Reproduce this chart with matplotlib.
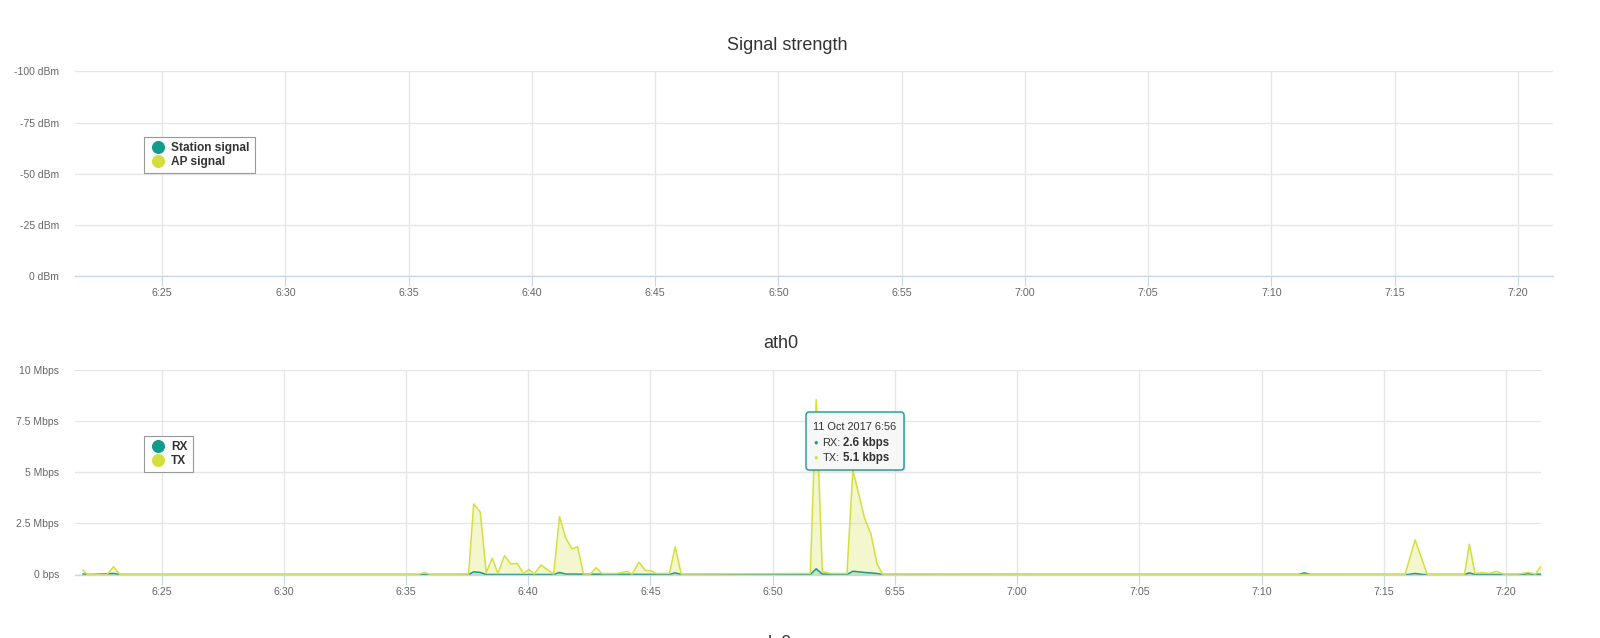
import matplotlib.pyplot as plt
from matplotlib.lines import Line2D
from matplotlib.patches import FancyBboxPatch
from matplotlib.ticker import FixedLocator, FuncFormatter

plt.rcParams['font.family'] = ['Liberation Sans', 'DejaVu Sans']

# time = minutes after 6:00 on 11 Oct 2017
tx_min = [21.79, 21.96, 22.77, 23.04, 23.29, 35.5, 35.75, 36.0,
          37.56, 37.77, 38.04, 38.28, 38.53, 38.76, 39.03, 39.29, 39.54, 39.81,
          40.03, 40.25, 40.52, 40.77, 41.04, 41.28, 41.54, 41.79, 42.02, 42.26,
          42.54, 42.78, 43.02, 43.63, 44.04, 44.25, 44.53, 44.79, 45.02, 45.24,
          45.78, 46.01, 46.26, 51.54, 51.78, 52.03, 52.39, 53.04, 53.28, 53.51,
          53.76, 54.02, 54.26, 54.49, 75.87, 76.28, 76.78, 78.3, 78.5, 78.73,
          79.0, 79.3, 79.6, 79.9, 80.5, 80.9, 81.2, 81.42]
tx_mbps = [0.22, 0.0, 0.0, 0.38, 0.0, 0.0, 0.1, 0.0,
           0.02, 3.45, 3.05, 0.09, 0.79, 0.05, 0.92, 0.51, 0.55, 0.05,
           0.25, 0.02, 0.47, 0.25, 0.02, 2.83, 1.77, 1.25, 1.36, 0.02,
           0.02, 0.33, 0.05, 0.05, 0.15, 0.02, 0.6, 0.2, 0.18, 0.05,
           0.05, 1.36, 0.02, 0.05, 8.55, 0.14, 0.05, 0.05, 5.1, 3.98,
           2.75, 1.98, 0.55, 0.02, 0.0, 1.69, 0.0, 0.0, 1.48, 0.05,
           0.1, 0.05, 0.15, 0.02, 0.02, 0.1, 0.02, 0.38]

rx_min = [21.79, 22.1, 23.04, 23.3, 37.56, 37.77, 38.04, 38.28, 41.04, 41.28,
          41.54, 45.78, 46.01, 46.26, 51.54, 51.78, 52.03, 53.04, 53.28, 53.76,
          54.26, 54.49, 71.5, 71.75, 72.0, 76.0, 76.28, 76.6, 78.3, 78.5, 78.73,
          80.7, 80.9, 81.1, 81.42]
rx_mbps = [0.02, 0.0, 0.05, 0.0, 0.0, 0.13, 0.1, 0.0, 0.0, 0.1,
           0.02, 0.0, 0.08, 0.0, 0.0, 0.28, 0.02, 0.0, 0.16, 0.1,
           0.05, 0.0, 0.0, 0.08, 0.0, 0.0, 0.05, 0.0, 0.0, 0.08, 0.0,
           0.0, 0.04, 0.0, 0.02]

time_ticks = list(range(25, 81, 5))
signal_ticks = [0, -25, -50, -75, -100]
signal_labels = ['0 dBm', '-25 dBm', '-50 dBm', '-75 dBm', '-100 dBm']
rate_ticks = [0, 2.5, 5, 7.5, 10]
rate_labels = ['0 bps', '2.5 Mbps', '5 Mbps', '7.5 Mbps', '10 Mbps']
x_range = (21.46, 81.43)

W, H = 1600, 638
TEAL = '#139b8c'
LIME = '#d4df3e'
GRID = '#e6e6e6'
AXIS = '#ccd6eb'
LABEL = '#666666'
DARK = '#333333'


def fx(x):
    return x / W


def fy(y):
    return 1 - y / H


def rect(x0, y0, x1, y1):
    return [fx(x0), fy(y1), (x1 - x0) / W, (y1 - y0) / H]


def hhmm(v, pos):
    m = int(round(v))
    return f'{6 + m // 60}:{m % 60:02d}'


def style(ax, yticks, ylabels, ylim):
    ax.set_xlim(*x_range)
    ax.set_ylim(*ylim)
    ax.xaxis.set_major_locator(FixedLocator(time_ticks))
    ax.xaxis.set_major_formatter(FuncFormatter(hhmm))
    ax.set_yticks(yticks)
    ax.set_yticklabels(ylabels)
    for s in ['top', 'right', 'left']:
        ax.spines[s].set_visible(False)
    ax.spines['bottom'].set_color(AXIS)
    ax.spines['bottom'].set_linewidth(1)
    ax.grid(True, color=GRID, linewidth=1)
    ax.set_axisbelow(True)
    ax.tick_params(axis='x', length=7.2, width=0.8, color=AXIS, pad=1.5,
                   labelsize=7.7, labelcolor=LABEL)
    ax.tick_params(axis='y', length=0, pad=11.5, labelsize=7.5, labelcolor=LABEL)


def legend(ax, names, x, y):
    handles = [Line2D([], [], linestyle='none', marker='o', markersize=8.4,
                      color=c) for c in (TEAL, LIME)]
    leg = ax.legend(handles, names, loc='upper left', bbox_to_anchor=(fx(x), fy(y)),
                    bbox_transform=ax.figure.transFigure, fancybox=False,
                    edgecolor='#999999', framealpha=1, borderaxespad=0,
                    prop=dict(weight='bold', size=8.6), labelcolor=DARK,
                    handlelength=1.5, handletextpad=0.3, labelspacing=0.12,
                    borderpad=0.45)
    leg.get_frame().set_linewidth(0.8)


fig = plt.figure(figsize=(16, 6.38), dpi=100)

# Signal strength
ax1 = fig.add_axes(rect(75, 71.4, 1553, 276))
style(ax1, signal_ticks, signal_labels, (0, -100))
legend(ax1, ['Station signal', 'AP signal'], 144, 137)
fig.text(fx(787), fy(45), 'Signal strength', ha='center', va='center',
         fontsize=13, color=DARK)

# ath0 traffic
ax2 = fig.add_axes(rect(75, 370, 1541, 574.5))
style(ax2, rate_ticks, rate_labels, (0, 10))
ax2.fill_between(rx_min, rx_mbps, color=TEAL, alpha=0.25, linewidth=0)
ax2.plot(rx_min, rx_mbps, color=TEAL, linewidth=1.1)
ax2.fill_between(tx_min, tx_mbps, color=LIME, alpha=0.25, linewidth=0)
ax2.plot(tx_min, tx_mbps, color=LIME, linewidth=1.1)
legend(ax2, ['RX', 'TX'], 144, 436)
fig.text(fx(780.5), fy(344), 'ath0', ha='center', va='center',
         fontsize=13, color=DARK)

# next chart title, cut off by the page edge
fig.text(fx(780), fy(644), 'lo0', ha='center', va='center', fontsize=13, color=DARK)

# tooltip
tt = (806, 412, 904, 470)
inch = fig.dpi_scale_trans
shadow = FancyBboxPatch(((tt[0] + 1.5) / 100, (H - tt[3] - 1.5) / 100),
                        (tt[2] - tt[0]) / 100, (tt[3] - tt[1]) / 100,
                        boxstyle='round,pad=0,rounding_size=0.03', transform=inch,
                        facecolor='#000000', alpha=0.12, edgecolor='none')
tip = FancyBboxPatch((tt[0] / 100, (H - tt[3]) / 100),
                     (tt[2] - tt[0]) / 100, (tt[3] - tt[1]) / 100,
                     boxstyle='round,pad=0,rounding_size=0.03', transform=inch,
                     facecolor='#f7f7f7', edgecolor=TEAL, linewidth=1)
fig.add_artist(shadow)
fig.add_artist(tip)
fig.text(fx(813), fy(427.5), '11 Oct 2017 6:56', va='center', fontsize=7.9, color=DARK)
for yy, c, name, val in [(443, TEAL, 'RX:', '2.6 kbps'), (458, LIME, 'TX:', '5.1 kbps')]:
    fig.text(fx(813.5), fy(yy), '\u25cf', va='center', fontsize=5.5, color=c)
    fig.text(fx(822.5), fy(yy), name, va='center', fontsize=7.9, color=DARK)
    fig.text(fx(842.5), fy(yy), val, va='center', fontsize=8.3, color=DARK,
             weight='bold')

fig.savefig('out.png', dpi=100)
